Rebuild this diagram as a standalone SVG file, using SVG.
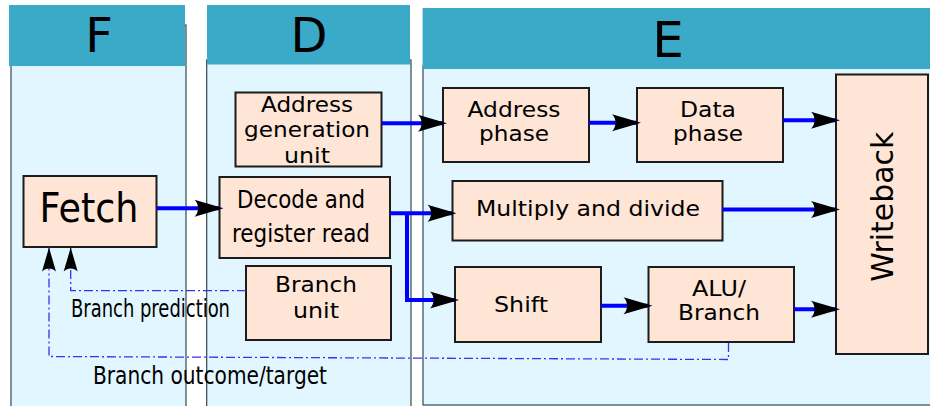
<svg xmlns="http://www.w3.org/2000/svg" width="930" height="406" viewBox="0 0 930 406">
<defs>
<style>
.hdr{fill:#3aaac8}
.body{fill:#e1f6fe;stroke:#2f4a50;stroke-width:1.2}
.node{fill:#fee5d6;stroke:#1c1c1c;stroke-width:2}
text{font-family:"DejaVu Sans",Verdana,sans-serif;fill:#000}
.t{font-size:20.5px;text-anchor:middle}
.c{font-size:24.5px}
.h{font-size:48px;text-anchor:middle}
.bl{fill:none;stroke:#0000ff;stroke-width:4}
.ds{fill:none;stroke:#3434ee;stroke-width:1.3;stroke-dasharray:9 3 2 3}
</style>
<marker id="ah" markerUnits="userSpaceOnUse" markerWidth="40" markerHeight="24" viewBox="-32 -12 40 24" refX="0" refY="0" orient="auto">
<path d="M4,0 L-25,-8.5 C-20.3,-4.3 -20.3,4.3 -25,8.5 Z" fill="#000"/>
</marker>
<marker id="ad" markerUnits="userSpaceOnUse" markerWidth="32" markerHeight="20" viewBox="-28 -10 32 20" refX="0" refY="0" orient="auto">
<path d="M0,0 L-24,-7 C-20,-3 -20,3 -24,7 Z" fill="#000"/>
</marker>
</defs>
<rect width="930" height="406" fill="#fff"/>
<g id="stage-F">
<rect class="body" x="11" y="25" width="175" height="390"/>
<rect class="hdr" x="9" y="5" width="176" height="61"/>
<text class="h" x="99" y="52">F</text>
</g>
<g id="stage-D">
<rect class="body" x="206.7" y="60" width="204.3" height="355"/>
<rect class="hdr" x="207" y="5" width="203" height="59.5"/>
<text class="h" x="309" y="52">D</text>
</g>
<g id="stage-E">
<rect class="body" x="423" y="66" width="520" height="339"/>
<rect class="hdr" x="422.6" y="8" width="510" height="61"/>
<text class="h" x="668" y="56.7" style="font-size:50px">E</text>
</g>
<g id="fetch">
<rect class="node" x="23.5" y="176" width="133" height="71"/>
<text x="89" y="222" style="font-size:41px;text-anchor:middle" textLength="99" lengthAdjust="spacingAndGlyphs">Fetch</text>
</g>
<g id="agu">
<rect class="node" x="235.5" y="92.5" width="146" height="74"/>
<text class="t" x="307" y="112" textLength="92" lengthAdjust="spacingAndGlyphs">Address</text>
<text class="t" x="307" y="137" textLength="126" lengthAdjust="spacingAndGlyphs">generation</text>
<text class="t" x="307" y="162.5" textLength="46" lengthAdjust="spacingAndGlyphs">unit</text>
</g>
<g id="decode">
<rect class="node" x="219.5" y="177" width="170.5" height="81"/>
<text class="c" x="301" y="208.3" style="text-anchor:middle" textLength="128" lengthAdjust="spacingAndGlyphs">Decode and</text>
<text class="c" x="301" y="241.7" style="text-anchor:middle" textLength="138" lengthAdjust="spacingAndGlyphs">register read</text>
</g>
<g id="branch-unit">
<rect class="node" x="246" y="266" width="145" height="74"/>
<text class="t" x="316" y="292.3" textLength="82" lengthAdjust="spacingAndGlyphs">Branch</text>
<text class="t" x="316" y="318.3" textLength="46" lengthAdjust="spacingAndGlyphs">unit</text>
</g>
<g id="address-phase">
<rect class="node" x="443" y="88" width="146" height="74"/>
<text class="t" x="514" y="116.5" textLength="93" lengthAdjust="spacingAndGlyphs">Address</text>
<text class="t" x="514" y="140.5" textLength="70" lengthAdjust="spacingAndGlyphs">phase</text>
</g>
<g id="data-phase">
<rect class="node" x="637" y="88" width="146" height="74"/>
<text class="t" x="708" y="116.5" textLength="56" lengthAdjust="spacingAndGlyphs">Data</text>
<text class="t" x="708" y="140.5" textLength="70" lengthAdjust="spacingAndGlyphs">phase</text>
</g>
<g id="multiply">
<rect class="node" x="452.5" y="181" width="270" height="59.5"/>
<text class="t" x="588" y="215.5" textLength="224" lengthAdjust="spacingAndGlyphs">Multiply and divide</text>
</g>
<g id="shift">
<rect class="node" x="455" y="267" width="146" height="75"/>
<text class="t" x="521" y="312" textLength="54" lengthAdjust="spacingAndGlyphs">Shift</text>
</g>
<g id="alu">
<rect class="node" x="648.5" y="267" width="145.5" height="75"/>
<text class="t" x="719" y="295.5" textLength="54" lengthAdjust="spacingAndGlyphs">ALU/</text>
<text class="t" x="719" y="320" textLength="82" lengthAdjust="spacingAndGlyphs">Branch</text>
</g>
<g id="writeback">
<rect class="node" x="836" y="74.5" width="92" height="279.5"/>
<text transform="translate(893,206.7) rotate(-90)" x="0" y="0" style="font-size:31px;text-anchor:middle" textLength="150" lengthAdjust="spacingAndGlyphs">Writeback</text>
</g>
<g id="connectors">
<path class="bl" d="M157,208.3 H219.5" marker-end="url(#ah)"/>
<path class="bl" d="M382,123.3 H443" marker-end="url(#ah)"/>
<path class="bl" d="M589,122.7 H637" marker-end="url(#ah)"/>
<path class="bl" d="M783,120.3 H836" marker-end="url(#ah)"/>
<path class="bl" d="M390,213.3 H452.5" marker-end="url(#ah)"/>
<path class="bl" d="M407,213.3 V300 H455" marker-end="url(#ah)"/>
<path class="bl" d="M722.5,209.6 H836" marker-end="url(#ah)"/>
<path class="bl" d="M601,305.7 H648.5" marker-end="url(#ah)"/>
<path class="bl" d="M794,309.2 H836" marker-end="url(#ah)"/>
<path class="ds" d="M246,290.7 H70.7 V247.5" marker-end="url(#ad)"/>
<path class="ds" d="M728.5,343 V359.5 L49,356.5 V247.5" marker-end="url(#ad)"/>
<text class="c" x="71" y="316.5" textLength="159" lengthAdjust="spacingAndGlyphs">Branch prediction</text>
<text class="c" x="93" y="384" textLength="234" lengthAdjust="spacingAndGlyphs">Branch outcome/target</text>
</g>
</svg>
